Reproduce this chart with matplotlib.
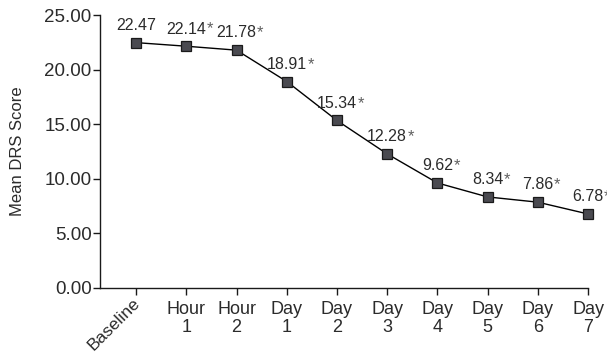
import matplotlib
matplotlib.use("Agg")
import matplotlib.pyplot as plt

plt.rcParams['font.family'] = ['Liberation Sans', 'DejaVu Sans']

categories = ["Baseline", "Hour\n1", "Hour\n2", "Day\n1", "Day\n2", "Day\n3",
              "Day\n4", "Day\n5", "Day\n6", "Day\n7"]
scores = [22.47, 22.14, 21.78, 18.91, 15.34, 12.28, 9.62, 8.34, 7.86, 6.78]
significant = [False, True, True, True, True, True, True, True, True, True]
y_ticks = [0, 5, 10, 15, 20, 25]

text_color = "#2b2b2b"

fig = plt.figure(figsize=(6.07, 3.56), dpi=100)
ax = fig.add_axes([100 / 607, 68 / 356, 488 / 607, 273 / 356])

x = list(range(len(categories)))
ax.plot(x, scores, color="black", linewidth=1.0, marker="s", markersize=7,
        markerfacecolor="#4a4a50", markeredgecolor="#1a1a1a", markeredgewidth=0.9,
        zorder=3, clip_on=False)

for xi, val, sig in zip(x, scores, significant):
    t = ax.annotate(f"{val:.2f}", xy=(xi, val), xytext=(0, 7),
                    textcoords="offset points", ha="center", va="bottom",
                    fontsize=11.5, color=text_color)
    if sig:
        ax.annotate("*", xy=(1.0, 1.0), xycoords=t, xytext=(0.3, 0),
                    textcoords="offset points", ha="left", va="top",
                    fontsize=12, color="#606060")

ax.set_xlim(-0.72, 9)
ax.set_ylim(0, 25)
ax.set_yticks(y_ticks)
ax.set_yticklabels([f"{v:.2f}" for v in y_ticks], fontsize=13.5, color=text_color)
ax.set_xticks(x)
ax.set_xticklabels([""] + categories[1:], fontsize=13, color=text_color,
                   linespacing=1.15)

# First category drawn on a slant, tucked under its tick
ax.annotate(categories[0], xy=(x[0], 0), xycoords=("data", "axes fraction"),
            xytext=(-3, -5), textcoords="offset points", rotation=45,
            rotation_mode="anchor", ha="right", va="top",
            fontsize=12.5, color=text_color)

ax.spines["top"].set_visible(False)
ax.spines["right"].set_visible(False)
for s in ("left", "bottom"):
    ax.spines[s].set_linewidth(1.0)
    ax.spines[s].set_color("#1a1a1a")
ax.tick_params(axis="x", direction="out", length=5, width=1.0, color="#1a1a1a", pad=4)
ax.tick_params(axis="y", direction="out", length=5, width=1.0, color="#1a1a1a", pad=1)

ax.set_ylabel("Mean DRS Score", fontsize=12, color=text_color, labelpad=14)

fig.savefig("out.png", dpi=100)
